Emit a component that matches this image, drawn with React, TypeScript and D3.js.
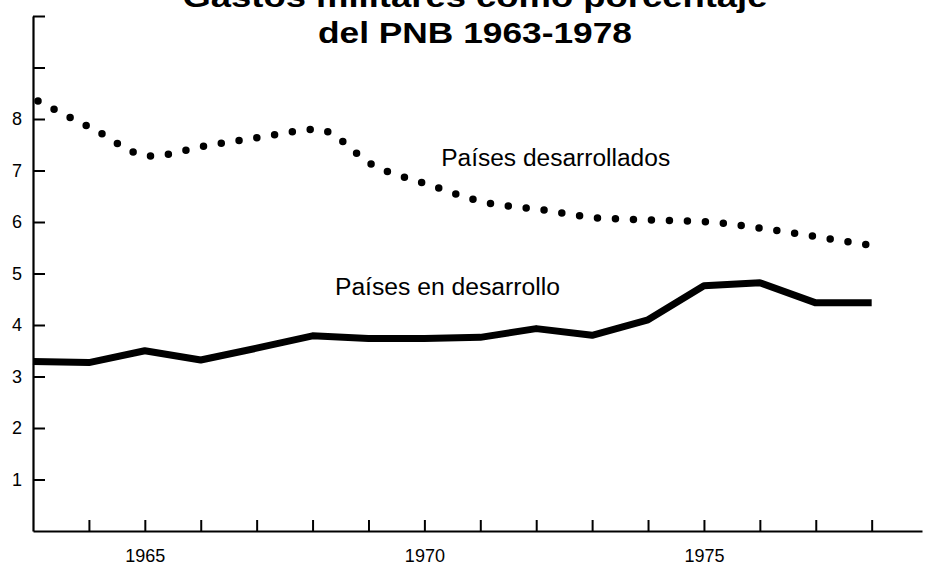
import React, { useEffect, useRef } from 'react';
import * as d3 from 'd3';

const years = [1963, 1964, 1965, 1966, 1967, 1968, 1969, 1970, 1971, 1972, 1973, 1974, 1975, 1976, 1977, 1978];
const developed = [8.35, 7.8, 7.28, 7.48, 7.65, 7.8, 7.1, 6.72, 6.38, 6.24, 6.08, 6.04, 6.0, 5.87, 5.7, 5.53];
const developing = [3.29, 3.27, 3.5, 3.32, 3.55, 3.79, 3.74, 3.74, 3.76, 3.93, 3.8, 4.1, 4.76, 4.82, 4.43, 4.43];
const yTicks = [1, 2, 3, 4, 5, 6, 7, 8, 9, 10];
const yLabels = [1, 2, 3, 4, 5, 6, 7, 8];
const xLabels = [1965, 1970, 1975];
const titleLines = ['Gastos militares como porcentaje', 'del PNB 1963-1978'];

const W = 930;
const H = 565;
const FONT = '"Liberation Sans", Arial, Helvetica, sans-serif';

const App: React.FC = () => {
  const ref = useRef<SVGSVGElement | null>(null);

  useEffect(() => {
    if (!ref.current) return;
    const svg = d3.select(ref.current);
    svg.selectAll('*').remove();

    const x = d3.scaleLinear().domain([1963, 1978.9]).range([33, 922]);
    const y = d3.scaleLinear().domain([0, 10]).range([531, 16]);

    // title (first line runs off the top, as in the scan); the scan's type is wide
    const titleWidths = [585, 314];
    svg.append('g')
      .selectAll('text')
      .data(titleLines)
      .enter().append('text')
      .attr('x', 475)
      .attr('y', (d, i) => 7 + i * 36)
      .attr('text-anchor', 'middle')
      .attr('textLength', (d, i) => titleWidths[i])
      .attr('lengthAdjust', 'spacingAndGlyphs')
      .style('font-family', FONT)
      .style('font-weight', 'bold')
      .style('font-size', '30px')
      .text(d => d);

    // y axis
    const yAxis = svg.append('g')
      .attr('transform', `translate(${x(1963)},0)`)
      .call(d3.axisLeft(y)
        .tickValues(yTicks)
        .tickSizeInner(-12)
        .tickSizeOuter(0)
        .tickPadding(11)
        .tickFormat(d => (yLabels.includes(d as number) ? String(d) : '')));
    yAxis.select('.domain').attr('stroke-width', 2.2);
    yAxis.selectAll('.tick line').attr('stroke-width', 2);
    yAxis.selectAll('.tick text')
      .style('font-family', FONT)
      .style('font-size', '18px')
      .attr('fill', '#000');

    // x axis
    const xAxis = svg.append('g')
      .attr('transform', `translate(0,${y(0)})`)
      .call(d3.axisBottom(x)
        .tickValues(years.slice(1))
        .tickSizeInner(-11)
        .tickSizeOuter(0)
        .tickPadding(18)
        .tickFormat(d => (xLabels.includes(d as number) ? String(d) : '')));
    xAxis.select('.domain').attr('stroke-width', 2.2);
    xAxis.selectAll('.tick line').attr('stroke-width', 2);
    xAxis.selectAll('.tick text')
      .style('font-family', FONT)
      .style('font-size', '18px')
      .attr('fill', '#000');

    // developed countries: dotted
    const dottedLine = d3.line<number>()
      .x((d, i) => x(years[i]))
      .y(d => y(d))
      .curve(d3.curveMonotoneX);
    svg.append('path')
      .datum(developed)
      .attr('d', dottedLine)
      .attr('fill', 'none')
      .attr('stroke', '#000')
      .attr('stroke-width', 7.5)
      .attr('stroke-linecap', 'round')
      .attr('stroke-dasharray', '0 18')
      .attr('transform', 'translate(5,0)');

    // developing countries: solid
    const solidLine = d3.line<number>()
      .x((d, i) => x(years[i]))
      .y(d => y(d));
    svg.append('path')
      .datum(developing)
      .attr('d', solidLine)
      .attr('fill', 'none')
      .attr('stroke', '#000')
      .attr('stroke-width', 7)
      .attr('stroke-linejoin', 'round');

    // series labels
    svg.append('text')
      .attr('x', x(1970.3))
      .attr('y', y(7.08))
      .attr('textLength', 229)
      .attr('lengthAdjust', 'spacingAndGlyphs')
      .style('font-family', FONT)
      .style('font-size', '23px')
      .text('Países desarrollados');

    svg.append('text')
      .attr('x', x(1968.4))
      .attr('y', y(4.58))
      .attr('textLength', 225)
      .attr('lengthAdjust', 'spacingAndGlyphs')
      .style('font-family', FONT)
      .style('font-size', '23px')
      .text('Países en desarrollo');
  }, []);

  return (
    <svg
      ref={ref}
      width={W}
      height={H}
      style={{ position: 'absolute', left: 0, top: 0, background: '#fff' }}
    />
  );
};

export default App;
